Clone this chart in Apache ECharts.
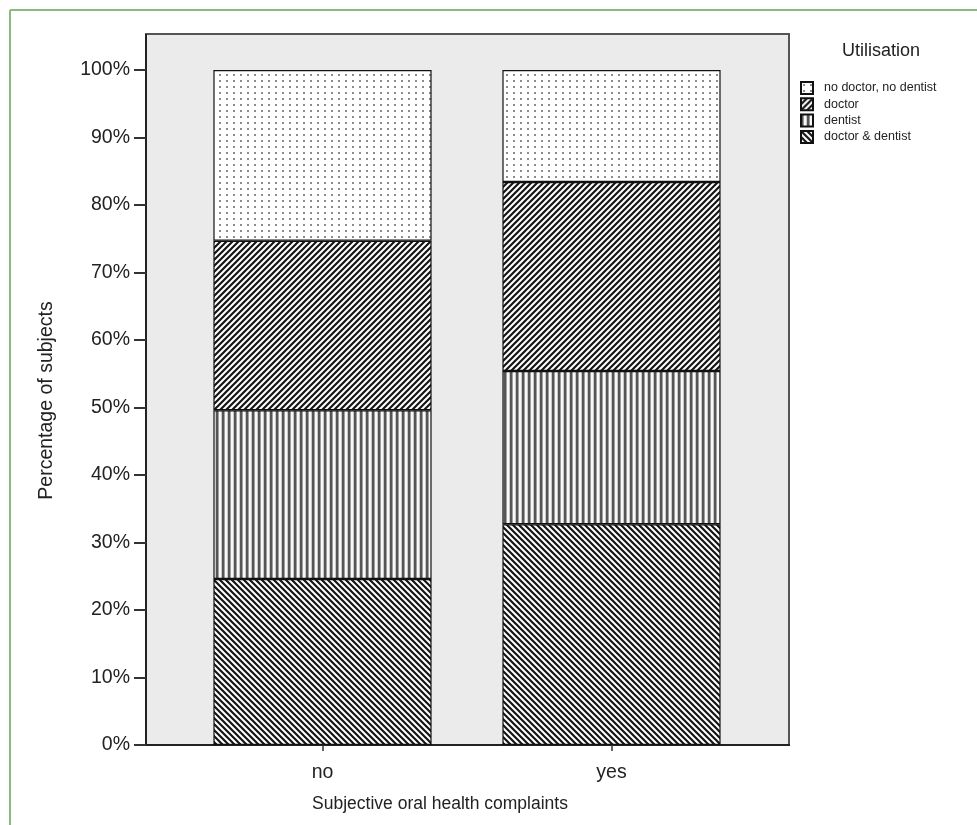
<!DOCTYPE html>
<html>
<head>
<meta charset="utf-8">
<script src="https://cdn.jsdelivr.net/npm/echarts@6/dist/echarts.min.js"></script>
<style>html,body{margin:0;padding:0;background:#fff;}#chart{width:977px;height:825px;}</style>
</head>
<body>
<div id="chart"></div>
<script>
const categories = ['no', 'yes'];
const doctorDentist = [24.6, 32.7];
const dentist = [25.0, 22.7];
const doctor = [25.1, 28.0];
const noDoctorNoDentist = [25.3, 16.6];
const yTicks = [0, 10, 20, 30, 40, 50, 60, 70, 80, 90, 100];

function makePattern(kind) {
  const c = document.createElement('canvas');
  const ctx = c.getContext('2d');
  if (kind === 'dots') {
    c.width = 7; c.height = 6;
    ctx.fillStyle = '#ffffff'; ctx.fillRect(0, 0, 7, 6);
    ctx.fillStyle = '#8c8c8c'; ctx.fillRect(2, 2, 2, 2);
  } else if (kind === 'vert') {
    c.width = 6; c.height = 4;
    const cols = ['#555555', '#555555', '#a0a0a0', '#f8f8f8', '#f8f8f8', '#c8c8c8'];
    cols.forEach((col, i) => { ctx.fillStyle = col; ctx.fillRect(i, 0, 1, 4); });
  } else {
    const s = 6;
    c.width = s; c.height = s;
    ctx.fillStyle = '#ffffff'; ctx.fillRect(0, 0, s, s);
    ctx.strokeStyle = '#151515'; ctx.lineWidth = 2.2;
    ctx.beginPath();
    if (kind === 'fwd') {
      for (let k = -1; k <= 1; k++) { ctx.moveTo(k * s - 1, s + 1); ctx.lineTo(k * s + s + 1, -1); }
    } else {
      for (let k = -1; k <= 1; k++) { ctx.moveTo(k * s - 1, -1); ctx.lineTo(k * s + s + 1, s + 1); }
    }
    ctx.stroke();
  }
  return { image: c, repeat: 'repeat' };
}

const font = 'Liberation Sans';
const chart = echarts.init(document.getElementById('chart'));
const seriesDefs = [
  ['doctor & dentist', doctorDentist, 'back'],
  ['dentist', dentist, 'vert'],
  ['doctor', doctor, 'fwd'],
  ['no doctor, no dentist', noDoctorNoDentist, 'dots']
];
chart.setOption({
  animation: false,
  title: {
    text: 'Utilisation', left: 837, top: 37,
    textStyle: { fontFamily: font, fontSize: 18, fontWeight: 'normal', color: '#222' }
  },
  legend: {
    orient: 'vertical', left: 795, top: 76,
    itemWidth: 12, itemHeight: 12, itemGap: 2.3,
    data: ['no doctor, no dentist', 'doctor', 'dentist', 'doctor & dentist'],
    textStyle: { fontFamily: font, fontSize: 12.5, color: '#222', padding: [0, 0, 0, 6] },
    icon: 'rect'
  },
  grid: { left: 178, right: 221, top: 70, bottom: 80 },
  xAxis: {
    type: 'category', data: categories,
    axisLine: { show: false },
    axisTick: { show: true, alignWithLabel: true, length: 6, lineStyle: { color: '#333', width: 1.5 } },
    axisLabel: { fontFamily: font, fontSize: 19.5, color: '#222', margin: 18 },
    name: 'Subjective oral health complaints', nameLocation: 'middle', nameGap: 50,
    nameTextStyle: { fontFamily: font, fontSize: 17.5, color: '#222', padding: [0, 54, 0, 0] }
  },
  yAxis: {
    type: 'value', min: 0, max: 100, interval: 10, offset: 32,
    axisLine: { show: false },
    axisTick: { show: true, length: 12, lineStyle: { color: '#333', width: 2 } },
    splitLine: { show: false },
    axisLabel: { fontFamily: font, fontSize: 19.5, color: '#222', margin: 16, formatter: v => v + '%' },
    name: 'Percentage of subjects', nameLocation: 'middle', nameGap: 89,
    nameTextStyle: { fontFamily: font, fontSize: 19.5, color: '#222', padding: [0, 0, 0, 14] }
  },
  graphic: [
    { type: 'line', shape: { x1: 10, y1: 10, x2: 977, y2: 10 }, style: { stroke: '#8cba7c', lineWidth: 2 }, z: -5 },
    { type: 'line', shape: { x1: 10, y1: 10, x2: 10, y2: 825 }, style: { stroke: '#8cba7c', lineWidth: 2 }, z: -5 },
    { type: 'rect', shape: { x: 146, y: 34, width: 643, height: 711 }, style: { fill: '#ebebeb', stroke: '#555', lineWidth: 2 }, z: -5 },
    { type: 'line', shape: { x1: 146, y1: 34, x2: 146, y2: 746 }, style: { stroke: '#222', lineWidth: 2 }, z: -4 },
    { type: 'line', shape: { x1: 145, y1: 745, x2: 790, y2: 745 }, style: { stroke: '#222', lineWidth: 2 }, z: -4 }
  ],
  series: seriesDefs.map(([name, data, kind]) => ({
    name, type: 'bar', stack: 'total', data, barWidth: '75.5%',
    itemStyle: { color: makePattern(kind), borderColor: '#111', borderWidth: 1.2 }
  }))
});
</script>
</body>
</html>
